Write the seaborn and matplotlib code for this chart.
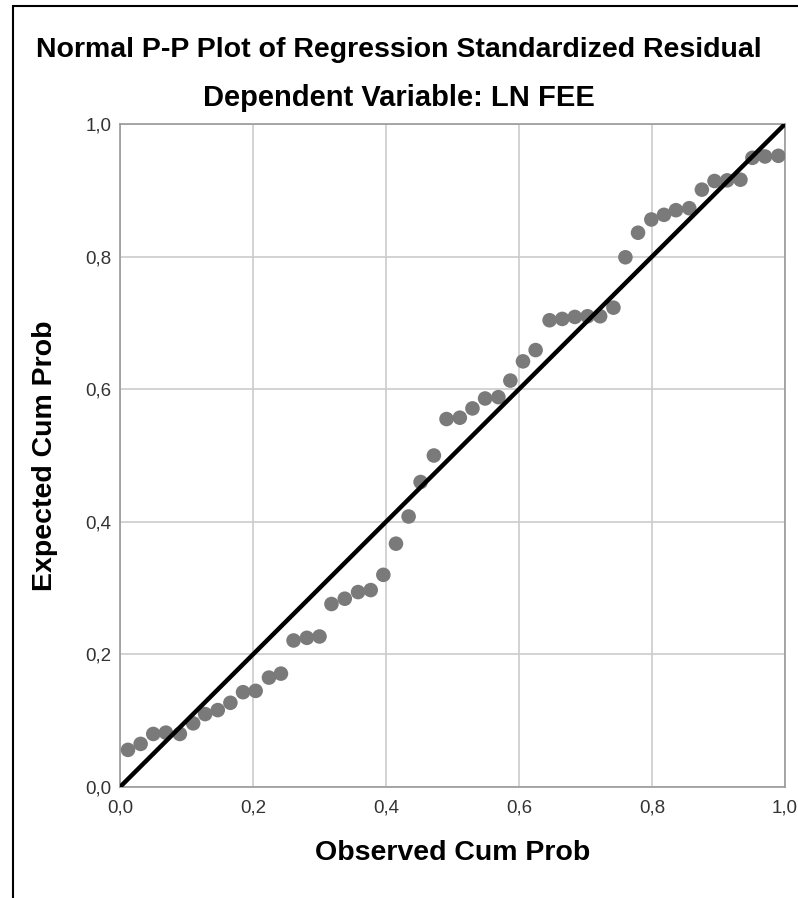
"""
Normal P-P plot of regression standardized residual (SPSS style)
"""

import numpy as np
import pandas as pd
import matplotlib
matplotlib.use("Agg")
import matplotlib.pyplot as plt
import seaborn as sns
from matplotlib.patches import Rectangle

# Observed vs expected cumulative probabilities
observed = [0.012, 0.031, 0.050, 0.069, 0.090, 0.110, 0.128, 0.147, 0.166, 0.185,
            0.204, 0.224, 0.242, 0.261, 0.281, 0.300, 0.318, 0.338, 0.358, 0.377,
            0.396, 0.415, 0.434, 0.452, 0.472, 0.491, 0.511, 0.530, 0.549, 0.569,
            0.587, 0.606, 0.625, 0.646, 0.665, 0.684, 0.703, 0.722, 0.742, 0.760,
            0.779, 0.799, 0.818, 0.836, 0.856, 0.875, 0.894, 0.913, 0.933, 0.951,
            0.970, 0.990]
expected = [0.056, 0.065, 0.080, 0.082, 0.080, 0.096, 0.110, 0.116, 0.127, 0.143,
            0.145, 0.165, 0.171, 0.221, 0.225, 0.227, 0.276, 0.284, 0.294, 0.297,
            0.320, 0.367, 0.408, 0.460, 0.500, 0.555, 0.557, 0.571, 0.586, 0.588,
            0.613, 0.642, 0.659, 0.704, 0.706, 0.709, 0.710, 0.710, 0.723, 0.799,
            0.836, 0.856, 0.863, 0.870, 0.873, 0.901, 0.914, 0.915, 0.916, 0.949,
            0.951, 0.952]
ref_line = [0.0, 1.0]
tick_vals = [0.0, 0.2, 0.4, 0.6, 0.8, 1.0]
tick_labels = ["0,0", "0,2", "0,4", "0,6", "0,8", "1,0"]

TITLE = "Normal P-P Plot of Regression Standardized Residual"
SUBTITLE = "Dependent Variable: LN FEE"

sns.set_style("whitegrid", {"grid.color": "#cccccc", "axes.edgecolor": "#9a9a9a",
                            "text.color": "black", "axes.labelcolor": "black"})
plt.rcParams['font.family'] = ['Liberation Sans', 'DejaVu Sans']

df = pd.DataFrame({"observed": observed, "expected": expected})

fig = plt.figure(figsize=(7.98, 8.98), dpi=100)
ax = fig.add_axes([120 / 798, 1 - 787 / 898, 665 / 798, 663 / 898])

sns.scatterplot(data=df, x="observed", y="expected", ax=ax, s=110,
                color="#7a7a7a", edgecolor="none", zorder=3)
sns.lineplot(x=ref_line, y=ref_line, ax=ax, color="black", linewidth=3.2, zorder=4)

ax.set_xlim(0, 1)
ax.set_ylim(0, 1)
ax.set_xticks(tick_vals)
ax.set_xticklabels(tick_labels)
ax.set_yticks(tick_vals)
ax.set_yticklabels(tick_labels)
ax.tick_params(length=0, labelsize=13.5, labelcolor="#333333")
ax.tick_params(axis="x", pad=9)
ax.tick_params(axis="y", pad=6)
ax.grid(True, linewidth=1.2)
for sp in ax.spines.values():
    sp.set_linewidth(1.2)

ax.set_xlabel("Observed Cum Prob", fontsize=20.5, fontweight="bold", labelpad=17)
ax.set_ylabel("Expected Cum Prob", fontsize=20.5, fontweight="bold", labelpad=20)

fig.text(0.5, 1 - 50 / 898, TITLE, ha="center", va="center",
         fontsize=20.5, fontweight="bold")
fig.text(0.5, 1 - 98 / 898, SUBTITLE, ha="center", va="center",
         fontsize=21, fontweight="bold")

# outer frame (top and left edges visible)
fig.patches.append(Rectangle((13 / 798, -0.1), 1.2, 1.1 - 6 / 898, transform=fig.transFigure,
                             fill=False, edgecolor="black", linewidth=1.5))

fig.savefig("out.png", dpi=100)
